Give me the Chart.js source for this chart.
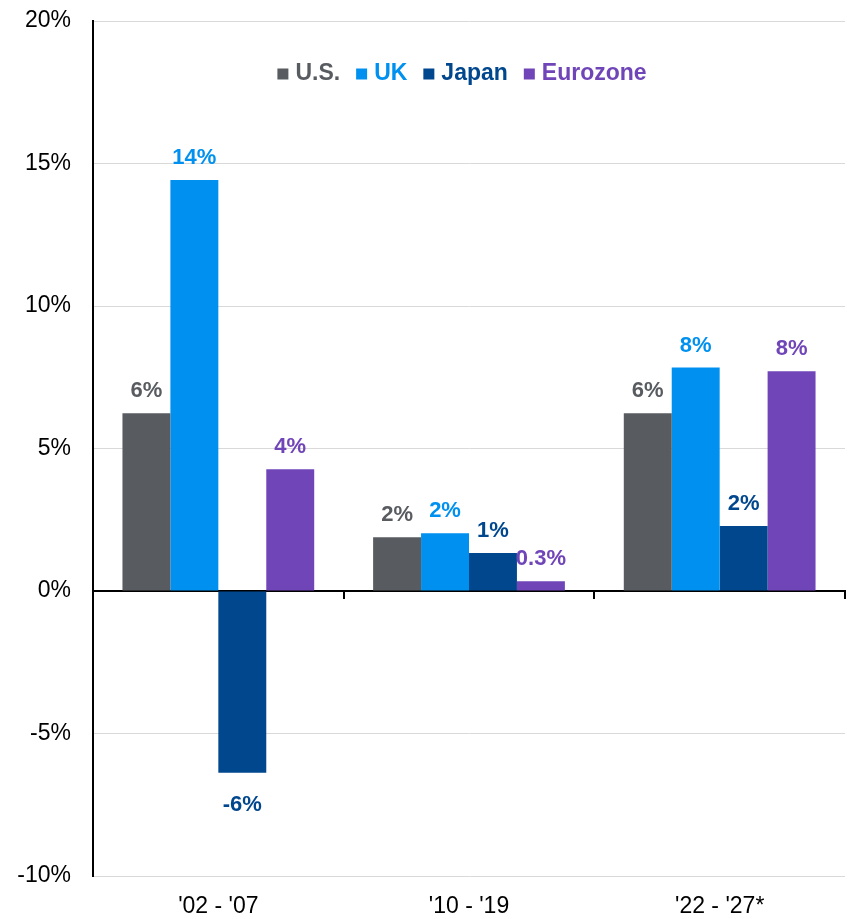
<!DOCTYPE html>
<html>
<head>
<meta charset="utf-8">
<title>Returns by region</title>
<script src="https://cdn.jsdelivr.net/npm/chart.js@4.4.1/dist/chart.umd.min.js"></script>
<style>
  html, body { margin: 0; padding: 0; background: #fff; }
  #wrap { width: 854px; height: 919px; position: relative; }
</style>
</head>
<body>
<div id="wrap"><canvas id="grafico"></canvas></div>
<script>
// Periodos y valores por región (%)
const categories = ["'02 - '07", "'10 - '19", "'22 - '27*"];
const seriesNames = ["U.S.", "UK", "Japan", "Eurozone"];
const usValues = [6.24, 1.89, 6.24];
const ukValues = [14.42, 2.03, 7.84];
const japanValues = [-6.38, 1.33, 2.28];
const eurozoneValues = [4.27, 0.34, 7.71];
const yMin = -10;
const yMax = 20;
const yStep = 5;

const colores = ["#585c60", "#0091f0", "#00478e", "#7045b8"];
const fuente = '"Liberation Sans", Arial, sans-serif';

const formatoEtiqueta = (v) =>
  (Math.abs(v) < 1 ? v.toFixed(1) : Math.round(v)) + "%";

// Etiquetas de valor encima / debajo de cada barra
const etiquetasBarras = {
  id: "etiquetasBarras",
  afterDatasetsDraw(chart) {
    const ctx = chart.ctx;
    ctx.save();
    ctx.font = "bold 22px " + fuente;
    ctx.textAlign = "center";
    ctx.textBaseline = "middle";
    chart.data.datasets.forEach((ds, i) => {
      const meta = chart.getDatasetMeta(i);
      meta.data.forEach((bar, j) => {
        const v = ds.data[j];
        const y = v >= 0 ? bar.y - 22 : bar.y + 32;
        ctx.fillStyle = ds.backgroundColor;
        ctx.fillText(formatoEtiqueta(v), bar.x, y);
      });
    });
    ctx.restore();
  },
};

// Leyenda dentro del área del gráfico, texto del color de cada serie
const leyenda = {
  id: "leyenda",
  afterDraw(chart) {
    const ctx = chart.ctx;
    const area = chart.chartArea;
    const caja = 11, sep = 7, hueco = 16;
    ctx.save();
    ctx.font = "bold 23px " + fuente;
    ctx.textBaseline = "middle";
    const anchos = chart.data.datasets.map((ds) => ctx.measureText(ds.label).width);
    const total = anchos.reduce((a, w) => a + caja + sep + w, 0) + hueco * (anchos.length - 1);
    let x = (area.left + area.right) / 2 - 7 - total / 2;
    const y = 74;
    chart.data.datasets.forEach((ds, i) => {
      ctx.fillStyle = ds.backgroundColor;
      ctx.fillRect(x, y - caja / 2, caja, caja);
      x += caja + sep;
      ctx.fillText(ds.label, x, y);
      x += anchos[i] + hueco;
    });
    ctx.restore();
  },
};

const valores = [usValues, ukValues, japanValues, eurozoneValues];

// Sin relleno automático de las escalas: el margen lo fija layout.padding
const sinRelleno = (s) => {
  s.paddingTop = 0;
  s.paddingBottom = 0;
};

new Chart(document.getElementById("grafico").getContext("2d"), {
  type: "bar",
  data: {
    labels: categories,
    datasets: seriesNames.map((nombre, i) => ({
      label: nombre,
      data: valores[i],
      backgroundColor: colores[i],
      xAxisID: "x",
      yAxisID: "y",
    })),
  },
  options: {
    responsive: true,
    maintainAspectRatio: false,
    animation: false,
    layout: { padding: { top: 21, right: 9, left: 0, bottom: 0 } },
    datasets: {
      bar: { categoryPercentage: 0.765, barPercentage: 1 },
    },
    plugins: {
      legend: { display: false },
      tooltip: { enabled: false },
    },
    scales: {
      x: {
        type: "category",
        position: { y: 0 },
        offset: true,
        ticks: { display: false },
        grid: {
          display: true,
          offset: true,
          drawOnChartArea: false,
          drawTicks: true,
          tickLength: 7,
          color: "#000",
          lineWidth: 2,
        },
        border: { display: true, color: "#000", width: 2 },
        afterFit: (s) => { sinRelleno(s); s.height = 0; },
      },
      xEtiquetas: {
        type: "category",
        axis: "x",
        position: "bottom",
        labels: categories,
        offset: true,
        grid: { display: false, drawTicks: false },
        border: { display: false },
        ticks: {
          color: "#000",
          padding: 17,
          font: { family: fuente, size: 23 },
          maxRotation: 0,
        },
        afterFit: (s) => { sinRelleno(s); s.height = 43; },
      },
      y: {
        min: yMin,
        max: yMax,
        ticks: {
          stepSize: yStep,
          color: "#000",
          padding: 22,
          font: { family: fuente, size: 23 },
          callback: (v) => v + "%",
        },
        grid: { color: "#d9d9d9", lineWidth: 1, drawTicks: false },
        border: { display: true, color: "#000", width: 2 },
        afterFit: (s) => { sinRelleno(s); s.width = 93; },
      },
    },
  },
  plugins: [etiquetasBarras, leyenda],
});
</script>
</body>
</html>
